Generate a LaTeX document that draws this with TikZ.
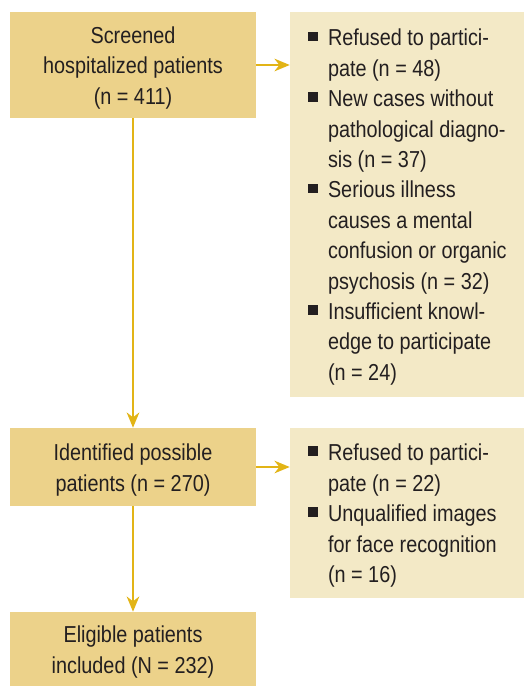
\documentclass[tikz,border=0pt]{standalone}
\usepackage{fontspec}
\setmainfont{Liberation Sans}[FakeStretch=0.86]
\usepackage{tikz}
\usetikzlibrary{shapes,positioning,calc}
\usetikzlibrary{arrows.meta}
\definecolor{oro}{RGB}{236,210,138}
\definecolor{crema}{RGB}{243,233,198}
\definecolor{freccia}{RGB}{226,180,22}
\definecolor{testo}{RGB}{35,31,32}
\newcommand{\testo}{\fontsize{17.3}{22.8}\selectfont}
\newcommand{\alto}{\rule{0pt}{17pt}}
\newcommand{\quadrato}{\makebox[15pt][l]{\rule[3.5pt]{7.3pt}{7.3pt}}}
\newcommand{\rientro}{\hspace*{15pt}}
\tikzstyle{passo} = [rectangle, fill=oro, minimum width=184.5pt, inner sep=0pt, align=center, text=testo, font=\testo]
\tikzstyle{esclusi} = [rectangle, fill=crema, minimum width=175.5pt, inner sep=0pt]
\tikzstyle{elenco} = [anchor=west, inner sep=0pt, align=left, text=testo, font=\testo]
\tikzstyle{arrow} = [line width=1.4pt, draw=freccia, -{Stealth[length=11.5pt,width=9.5pt]}]

\begin{document}
\begin{tikzpicture}[x=0.75pt,y=-0.75pt]
	\useasboundingbox (0,0) rectangle (524,686);
	\node (screened) at (133,65) [passo, minimum height=79.5pt] {\alto Screened\\hospitalized patients\\(n = 411)};
	\node (excl1) at (407,204.5) [esclusi, minimum height=288.75pt] {};
	\node (list1) at ([xshift=13.5pt,yshift=-2pt]excl1.west) [elenco] {\quadrato Refused to partici-\\
		\rientro pate (n = 48)\\
		\quadrato New cases without\\
		\rientro pathological diagno-\\
		\rientro sis (n = 37)\\
		\quadrato Serious illness\\
		\rientro causes a mental\\
		\rientro confusion or organic\\
		\rientro psychosis (n = 32)\\
		\quadrato Insufficient knowl-\\
		\rientro edge to participate\\
		\rientro (n = 24)};
	\node (identified) at (133,467) [passo, minimum height=58.5pt] {\alto Identified possible\\patients (n = 270)};
	\node (excl2) at (407,513) [esclusi, minimum height=127.5pt] {};
	\node (list2) at ([xshift=13.5pt,yshift=-2pt]excl2.west) [elenco] {\quadrato Refused to partici-\\
		\rientro pate (n = 22)\\
		\quadrato Unqualified images\\
		\rientro for face recognition\\
		\rientro (n = 16)};
	\node (eligible) at (133,649) [passo, minimum height=55.5pt] {\alto Eligible patients\\included (N = 232)};
	\draw [arrow] (screened.east) -- (screened.east -| excl1.west);
	\draw [arrow] (screened.south) -- (identified.north);
	\draw [arrow] (identified.east) -- (identified.east -| excl2.west);
	\draw [arrow] (identified.south) -- (eligible.north);
\end{tikzpicture}
\end{document}
